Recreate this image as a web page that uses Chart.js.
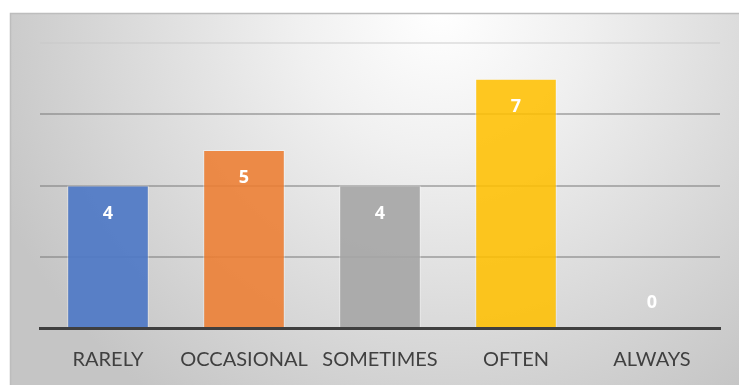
<!DOCTYPE html>
<html>
<head>
<meta charset="utf-8">
<script src="https://cdn.jsdelivr.net/npm/chart.js@4.4.0/dist/chart.umd.js"></script>
<style>
    html, body { margin: 0; padding: 0; background: #ffffff; }
    #wrap { width: 739px; height: 385px; position: relative; }
</style>
</head>
<body>
<div id="wrap"><canvas id="freq-chart"></canvas></div>
<script>
// Answer frequencies
const categories = ['RARELY', 'OCCASIONAL', 'SOMETIMES', 'OFTEN', 'ALWAYS'];
const counts = [4, 5, 4, 7, 0];
const barColors = ['rgba(78, 120, 198, 0.92)', 'rgba(237, 125, 49, 0.88)', 'rgba(165, 165, 165, 0.9)', 'rgba(255, 192, 0, 0.87)', 'rgba(91, 155, 213, 0.9)'];
const yTicks = [0, 2, 4, 6, 8];

// Soft gray backdrop with a bright spot near the top
const backdrop = {
    id: 'backdrop',
    beforeDraw(chart) {
        const ctx = chart.ctx;
        const w = chart.width, h = chart.height;
        ctx.save();
        ctx.fillStyle = '#ffffff';
        ctx.fillRect(0, 0, w, h);
        const g = ctx.createRadialGradient(440, 10, 0, 440, 10, 480);
        g.addColorStop(0, '#ffffff');
        g.addColorStop(0.3, '#f0f0f0');
        g.addColorStop(1, '#c5c5c5');
        ctx.fillStyle = g;
        ctx.fillRect(10, 13, w - 10, h - 13);
        ctx.strokeStyle = '#bdbdbd';
        ctx.lineWidth = 1.5;
        ctx.beginPath();
        ctx.moveTo(10.5, h);
        ctx.lineTo(10.5, 13.5);
        ctx.lineTo(w, 13.5);
        ctx.stroke();
        ctx.restore();
    }
};

// White value labels inside the top of each bar
const valueLabels = {
    id: 'valueLabels',
    afterDatasetsDraw(chart) {
        const ctx = chart.ctx;
        const meta = chart.getDatasetMeta(0);
        ctx.save();
        ctx.fillStyle = '#ffffff';
        ctx.font = 'bold 18px "Open Sans"';
        ctx.textAlign = 'center';
        ctx.textBaseline = 'middle';
        meta.data.forEach((bar, i) => {
            const v = chart.data.datasets[0].data[i];
            ctx.fillText(String(v), bar.x, bar.y + (v === 0 ? -25 : 28));
        });
        ctx.restore();
    }
};

new Chart(document.getElementById('freq-chart').getContext('2d'), {
    type: 'bar',
    data: {
        labels: categories,
        datasets: [{
            data: counts,
            backgroundColor: barColors,
            borderColor: 'rgba(255, 255, 255, 0.45)',
            borderWidth: 1,
            borderSkipped: 'bottom',
            categoryPercentage: 1,
            barPercentage: 0.6
        }]
    },
    options: {
        responsive: true,
        maintainAspectRatio: false,
        animation: false,
        devicePixelRatio: 1,
        layout: {
            padding: { left: 40, right: 19, top: 43, bottom: 1 }
        },
        plugins: {
            legend: { display: false },
            tooltip: { enabled: false }
        },
        scales: {
            x: {
                grid: { display: false },
                border: { display: true, color: '#3f3f3f', width: 3 },
                ticks: {
                    color: '#404040',
                    font: { family: 'Lato', size: 20 },
                    padding: 12
                }
            },
            y: {
                min: 0,
                max: 8,
                afterBuildTicks(axis) {
                    axis.ticks = yTicks.map(v => ({ value: v }));
                },
                afterFit(axis) {
                    axis.width = 0;
                },
                border: { display: false },
                grid: {
                    drawTicks: false,
                    lineWidth: 2,
                    color: (c) => c.tick && c.tick.value === 8 ? 'rgba(200, 200, 200, 0.45)' : 'rgba(120, 120, 120, 0.5)'
                },
                ticks: { display: false }
            }
        }
    },
    plugins: [backdrop, valueLabels]
});
</script>
</body>
</html>
